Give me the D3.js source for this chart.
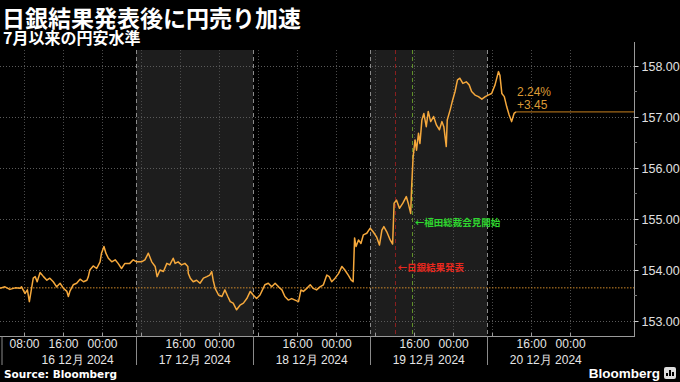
<!DOCTYPE html>
<html><head><meta charset="utf-8">
<script src="https://cdn.jsdelivr.net/npm/d3@7"></script>
<style>
html,body{margin:0;padding:0;background:#000;}
svg{display:block;}
</style></head>
<body>
<svg id="c" width="680" height="382"></svg>
<script>
// ---- data (hours since 16 Dec 2024 00:00 JST, USD/JPY) ----
const hours = [3.1,4.1,5.1,6.2,7.2,7.5,8.2,8.7,9.1,9.6,9.9,10.3,10.7,11.3,12.0,12.7,13.3,14.0,14.7,15.4,16.1,16.8,17.1,17.4,18.1,18.8,19.5,20.2,20.9,21.2,21.5,22.2,22.9,23.6,23.9,24.4,24.8,25.3,26.0,26.7,27.3,28.0,28.7,29.7,30.4,31.1,32.1,32.8,33.5,34.2,34.9,35.3,35.9,36.6,37.3,37.9,38.6,
39.0,39.6,40.3,41.0,41.6,41.7,42.1,42.7,43.4,44.1,44.8,45.5,46.1,46.5,46.8,47.2,47.9,48.6,49.2,49.8,50.3,50.9,51.6,52.3,53.0,53.7,54.4,55.0,55.7,56.4,56.9,57.4,58.1,58.8,59.5,60.2,60.9,61.5,62.2,62.9,63.6,64.3,64.8,65.3,66.0,66.7,67.3,68.0,68.7,69.4,70.1,70.6,71.1,71.8,72.5,73.2,73.8,74.5,75.1,75.5,75.8,
76.1,76.6,77.1,77.6,78.3,79.0,79.6,80.3,80.9,81.4,81.8,82.4,83.1,83.6,83.9,84.4,85.0,85.7,86.4,86.8,87.3,87.5,87.8,88.2,88.5,88.9,89.2,89.6,90.0,90.5,90.9,91.4,92.0,92.6,93.2,93.7,94.1,94.6,94.8,95.4,95.9,96.4,96.9,97.4,98.0,98.7,99.3,99.8,100.5,101.2,101.9,102.6,103.2,103.9,104.6,105.3,105.6,106.0,106.5,107.0,107.5,108.0,108.5,108.9];
const usdjpy = [153.64,153.67,153.62,153.65,153.64,153.67,153.54,153.61,153.38,153.67,153.84,153.87,153.77,153.95,153.87,153.80,153.84,153.77,153.67,153.74,153.64,153.58,153.48,153.58,153.71,153.74,153.82,153.77,153.80,153.87,154.00,154.08,154.03,154.16,154.33,154.46,154.33,154.23,154.16,154.20,154.13,154.03,154.13,154.13,154.20,154.16,154.16,154.20,154.33,154.16,154.07,153.87,154.00,153.97,154.13,154.10,154.23,
154.13,154.16,154.10,154.13,154.07,153.93,153.84,153.77,153.80,153.74,153.84,153.87,153.90,153.97,153.80,153.64,153.51,153.48,153.61,153.48,153.38,153.35,153.22,153.31,153.35,153.44,153.58,153.51,153.44,153.51,153.61,153.71,153.74,153.67,153.74,153.67,153.61,153.48,153.41,153.44,153.41,153.38,153.61,153.58,153.64,153.71,153.64,153.61,153.67,153.71,153.90,153.87,153.77,153.84,153.93,154.07,154.00,153.90,153.80,153.77,154.63,
154.46,154.59,154.52,154.69,154.72,154.82,154.75,154.65,154.49,154.78,154.85,154.75,154.59,154.51,155.31,155.37,155.21,155.31,155.44,155.31,155.11,155.63,156.22,156.55,156.35,156.68,156.48,156.94,157.07,156.81,157.11,156.91,157.01,156.84,156.75,156.91,156.81,156.42,156.94,157.14,157.33,157.50,157.73,157.76,157.66,157.69,157.63,157.50,157.43,157.40,157.35,157.40,157.43,157.46,157.63,157.89,157.82,157.46,157.40,157.20,157.04,156.91,157.07,157.10];

const yTicks = [153, 154, 155, 156, 157, 158];
const gridHours = [8,16,24,32,40,48,56,64,72,80,88,96,104,112,120];
const labelHours = [8,16,24,40,48,64,72,88,96,112,120];
const dayStarts = [7,31,55,79,103,127];           // session boundaries (07:00)
const dayLabels = ["16 12月 2024","17 12月 2024","18 12月 2024","19 12月 2024","20 12月 2024"];
const shadedDays = [1,3];                           // 17 & 19 Dec
const baseValue = 153.65, lastValue = 157.10;
const pctLabel = "2.24%", chgLabel = "+3.45";
const events = [
  {h:84.0, text:"←日銀結果発表", line:"#8a1f1f", color:"#e8281e", v:153.98},
  {h:87.5, text:"←植田総裁会見開始", line:"#5f8f2a", color:"#2fd62f", v:154.86}
];
const title = "日銀結果発表後に円売り加速";
const subtitle = "7月以来の円安水準";

// ---- layout ----
const svg = d3.select("#c");
const W=680,H=382;
const pl=0, pr=634, pt=50, pb=336;
const x = d3.scaleLinear().domain([3.08,133.1]).range([pl,pr]);
const y = d3.scaleLinear().domain([152.706,158.314]).range([pb,pt]);
const jp = "'Noto Sans CJK JP','Noto Sans',sans-serif";
const lat = "'Liberation Sans','Noto Sans',Arial,sans-serif";
const innerSeps = dayStarts.slice(1,5);

svg.append("rect").attr("width",W).attr("height",H).attr("fill","#000");

// shaded days
shadedDays.forEach(i=>{
  svg.append("rect").attr("x",x(dayStarts[i])).attr("y",pt)
    .attr("width",x(dayStarts[i+1])-x(dayStarts[i])).attr("height",pb-pt)
    .attr("fill","#1d1d1d");
});

// horizontal grid
svg.append("g").selectAll("line").data(yTicks).join("line")
  .attr("x1",pl).attr("x2",pr).attr("y1",d=>Math.round(y(d))+0.5).attr("y2",d=>Math.round(y(d))+0.5)
  .attr("stroke","#5a5a5a").attr("stroke-width",1).attr("stroke-dasharray","1,2");

// vertical grid
svg.append("g").selectAll("line").data(gridHours).join("line")
  .attr("x1",d=>Math.round(x(d))+0.5).attr("x2",d=>Math.round(x(d))+0.5).attr("y1",pt).attr("y2",pb)
  .attr("stroke","#4a4a4a").attr("stroke-width",1).attr("stroke-dasharray","1,2");

// day separators
svg.append("g").selectAll("line").data(innerSeps).join("line")
  .attr("x1",d=>Math.round(x(d))+0.5).attr("x2",d=>Math.round(x(d))+0.5).attr("y1",pt).attr("y2",pb)
  .attr("stroke","#8a8a8a").attr("stroke-width",1).attr("stroke-dasharray","4,3");

// event lines
events.forEach(e=>{
  svg.append("line").attr("x1",Math.round(x(e.h))+0.5).attr("x2",Math.round(x(e.h))+0.5)
    .attr("y1",pt).attr("y2",pb).attr("stroke",e.line).attr("stroke-width",1).attr("stroke-dasharray","4,3");
});

// baseline
svg.append("line").attr("x1",pl).attr("x2",pr).attr("y1",y(baseValue)).attr("y2",y(baseValue))
  .attr("stroke","#d08a2a").attr("stroke-width",1).attr("stroke-dasharray","1.5,1.5");

// series
const pts = hours.map((h,i)=>[h,usdjpy[i]]);
svg.append("path").datum(pts)
  .attr("d",d3.line().x(d=>x(d[0])).y(d=>y(d[1])))
  .attr("fill","none").attr("stroke","#f5a83c").attr("stroke-width",1.5).attr("stroke-linejoin","round");

// last value line
const lastH = hours[hours.length-1];
svg.append("line").attr("x1",x(lastH)).attr("x2",pr).attr("y1",y(lastValue)).attr("y2",y(lastValue))
  .attr("stroke","#c8801e").attr("stroke-width",1);
svg.append("text").attr("x",x(lastH)+1).attr("y",y(lastValue)-16).text(pctLabel)
  .attr("fill","#dd9a35").attr("font-family",lat).attr("font-size",12);
svg.append("text").attr("x",x(lastH)+1).attr("y",y(lastValue)-3).text(chgLabel)
  .attr("fill","#dd9a35").attr("font-family",lat).attr("font-size",12);

// event labels
events.forEach(e=>{
  svg.append("text").attr("x",x(e.h)+3).attr("y",y(e.v)).text(e.text)
    .attr("fill",e.color).attr("font-family",jp).attr("font-size",9.5).attr("font-weight","bold");
});

// right axis
const ya = d3.axisRight(y).tickValues(yTicks).tickFormat(d3.format(".2f")).tickSize(4).tickPadding(3);
const gy = svg.append("g").attr("transform",`translate(${pr+0.5},0)`).call(ya);
gy.select(".domain").attr("d",`M0,${pt-8}V${pb+1}`).attr("stroke","#9a9a9a");
gy.selectAll(".tick line").attr("stroke","#cfcfcf");
gy.selectAll(".tick text").attr("fill","#e0e0e0").attr("font-family",lat).attr("font-size",12.5);
// minor half ticks
svg.append("g").selectAll("line").data(yTicks.slice(0,-1).map(v=>v+0.5)).join("line")
  .attr("x1",pr).attr("x2",pr+3).attr("y1",d=>y(d)).attr("y2",d=>y(d)).attr("stroke","#777");

// bottom axis
const xa = d3.axisBottom(x).tickValues(labelHours)
  .tickFormat(h=>d3.format("02d")(h%24)+":00").tickSize(0).tickPadding(3);
const gx = svg.append("g").attr("transform",`translate(0,${pb})`).call(xa);
gx.select(".domain").attr("d",`M${pl},0.5H${pr+0.5}`).attr("stroke","#9a9a9a");
gx.selectAll(".tick text").attr("fill","#e6e6e6").attr("font-family",lat).attr("font-size",12);
// small ticks along axis
svg.append("g").selectAll("line").data(gridHours).join("line")
  .attr("x1",d=>Math.round(x(d))+0.5).attr("x2",d=>Math.round(x(d))+0.5).attr("y1",pb-3).attr("y2",pb)
  .attr("stroke","#9a9a9a");
// session separators below axis
const sepX = [2].concat(innerSeps.map(h=>Math.round(x(h))+0.5));
svg.append("g").selectAll("line").data(sepX).join("line")
  .attr("x1",d=>d).attr("x2",d=>d).attr("y1",pb).attr("y2",pb+29).attr("stroke","#8a8a8a");
// date labels
dayLabels.forEach((t,i)=>{
  const a = Math.max(pl,x(dayStarts[i])), b = Math.min(pr,x(dayStarts[i+1]));
  svg.append("text").attr("x",(a+b)/2).attr("y",pb+28).attr("text-anchor","middle").text(t)
    .attr("fill","#e6e6e6").attr("font-family",lat).attr("font-size",12);
});

// titles
svg.append("text").attr("x",2).attr("y",27).text(title)
  .attr("fill","#fff").attr("font-family",jp).attr("font-size",23).attr("font-weight","bold");
svg.append("text").attr("x",3).attr("y",44).text(subtitle)
  .attr("fill","#fff").attr("font-family",jp).attr("font-size",16).attr("font-weight","bold");

// footer
svg.append("text").attr("x",4).attr("y",378).text("Source: Bloomberg")
  .attr("fill","#fff").attr("font-family","'DejaVu Sans',sans-serif").attr("font-size",10.5).attr("font-weight","bold");
svg.append("text").attr("x",660).attr("y",378).attr("text-anchor","end").text("Bloomberg")
  .attr("fill","#fff").attr("font-family",lat).attr("font-size",13.5).attr("font-weight","bold");
const ic = svg.append("g").attr("transform","translate(664,367)");
ic.append("rect").attr("width",12).attr("height",12).attr("rx",2).attr("fill","#ddd");
[[2,6,2],[5,3,2],[8,5,2]].forEach(([bx,by,bw])=>ic.append("rect").attr("x",bx).attr("y",by).attr("width",bw).attr("height",9-by).attr("fill","#000"));
</script>
</body></html>
